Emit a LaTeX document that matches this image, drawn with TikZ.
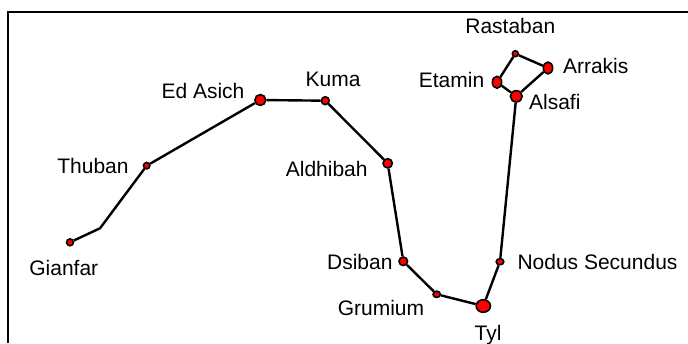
\documentclass[tikz,border=0pt]{standalone}
\usepackage{fontspec}
\setmainfont{Liberation Sans}
\usetikzlibrary{shapes.geometric}
\begin{document}
\begin{tikzpicture}[x=1pt,y=-1pt,
  starnode/.style={ellipse,draw=black,fill=red,line width=1.6pt,inner sep=0pt},
  lbl/.style={anchor=base,inner sep=0pt,font=\fontsize{21}{24}\selectfont},
  edge/.style={line width=2.4pt,black}]
\useasboundingbox (0,0) rectangle (688,343);
\draw[line width=2.3pt] (8.3,343) -- (8.3,11.7) -- (688,11.7);
% stars
\node[starnode,minimum width=6.9pt,minimum height=6.9pt] (gianfar) at (70,242.3) {};
\coordinate (bend) at (100,228.3);
\node[starnode,minimum width=6.4pt,minimum height=6.4pt] (thuban) at (146.7,165.7) {};
\node[starnode,minimum width=10.9pt,minimum height=10.9pt] (edasich) at (260.3,100) {};
\node[starnode,minimum width=7.9pt,minimum height=7.9pt] (kuma) at (325.3,100.7) {};
\node[starnode,minimum width=9.3pt,minimum height=9.3pt] (aldhibah) at (387.7,163.3) {};
\node[starnode,minimum width=8.6pt,minimum height=8.6pt] (dsiban) at (403.3,261.3) {};
\node[starnode,minimum width=7.3pt,minimum height=6.3pt] (grumium) at (436.7,294.3) {};
\node[starnode,minimum width=14.3pt,minimum height=12.6pt] (tyl) at (483.3,306) {};
\node[starnode,minimum width=7.6pt,minimum height=6.2pt] (nodus) at (500,261.7) {};
\node[starnode,minimum width=11.9pt,minimum height=11.3pt] (alsafi) at (516.3,96.3) {};
\node[starnode,minimum width=9.3pt,minimum height=11.9pt] (etamin) at (497,82.3) {};
\node[starnode,minimum width=5.9pt,minimum height=5.9pt] (rastaban) at (515.3,53.7) {};
\node[starnode,minimum width=9.3pt,minimum height=11.9pt] (arrakis) at (548,68) {};
% connectors
\draw[edge,line join=round] (gianfar) -- (bend) -- (thuban);
\draw[edge] (thuban) -- (edasich);
\draw[edge] (edasich) -- (kuma);
\draw[edge] (kuma) -- (aldhibah);
\draw[edge] (aldhibah) -- (dsiban);
\draw[edge] (dsiban) -- (grumium);
\draw[edge] (grumium) -- (tyl);
\draw[edge] (tyl) -- (nodus);
\draw[edge] (nodus) -- (alsafi);
\draw[edge] (alsafi) -- (arrakis);
\draw[edge] (arrakis) -- (rastaban);
\draw[edge] (rastaban) -- (etamin);
\draw[edge] (etamin) -- (alsafi);
% labels
\node[lbl] (lgianfar) at (63.8,275) {Gianfar};
\node[lbl] (lthuban) at (93,173.3) {Thuban};
\node[lbl] (ledasich) at (203,98.3) {Ed Asich};
\node[lbl] (lkuma) at (333,86.7) {Kuma};
\node[lbl] (laldhibah) at (326.7,176) {Aldhibah};
\node[lbl] (ldsiban) at (359.8,269.3) {Dsiban};
\node[lbl] (lgrumium) at (381,315) {Grumium};
\node[lbl] (ltyl) at (488,340) {Tyl};
\node[lbl] (lnodus) at (597.5,269) {Nodus Secundus};
\node[lbl] (lalsafi) at (554.8,109.3) {Alsafi};
\node[lbl] (letamin) at (451.5,87.7) {Etamin};
\node[lbl] (lrastaban) at (510.3,33.3) {Rastaban};
\node[lbl] (larrakis) at (595.7,73.3) {Arrakis};
\end{tikzpicture}
\end{document}
